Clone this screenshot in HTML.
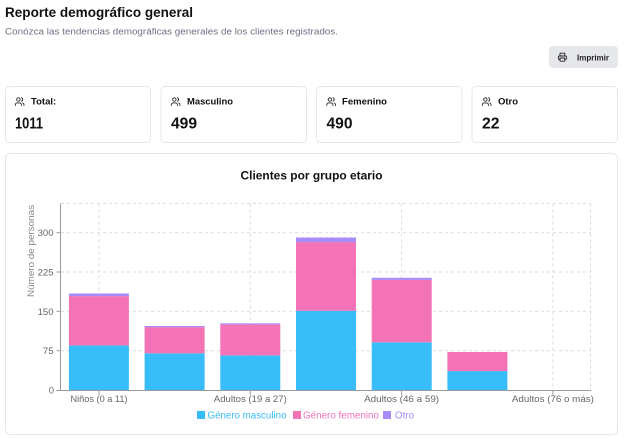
<!DOCTYPE html>
<html><head><meta charset="utf-8"><style>
html,body{margin:0;padding:0;background:#fff;}
svg{display:block;}
text{font-family:"Liberation Sans",Arial,sans-serif;}
</style></head><body>
<svg width="624" height="438" viewBox="0 0 624 438" xmlns="http://www.w3.org/2000/svg">
<rect width="624" height="438" fill="#fff"/>
<!-- header -->
<text x="5" y="17" font-size="13.5" font-weight="700" fill="#111" textLength="188" lengthAdjust="spacingAndGlyphs">Reporte demográfico general</text>
<text x="5" y="34.5" font-size="9" fill="#6b7280" textLength="333" lengthAdjust="spacingAndGlyphs">Conózca las tendencias demográficas generales de los clientes registrados.</text>

<!-- print button -->
<rect x="549" y="46" width="69" height="22" rx="4" fill="#e5e7eb"/>
<g transform="translate(557.6,52.4) scale(0.4)" fill="none" stroke="#222" stroke-width="2.2" stroke-linecap="round" stroke-linejoin="round">
<path d="M6 9V2h12v7"/><path d="M6 18H4a2 2 0 0 1-2-2v-5a2 2 0 0 1 2-2h16a2 2 0 0 1 2 2v5a2 2 0 0 1-2 2h-2"/><rect x="6" y="14" width="12" height="8"/>
</g>
<text x="577" y="60.5" font-size="8.5" font-weight="700" fill="#222" textLength="32" lengthAdjust="spacingAndGlyphs">Imprimir</text>

<!-- stat cards -->
<g fill="#fff" stroke="#e5e7eb" stroke-width="1">
<rect x="5.5" y="86.5" width="145" height="56" rx="4"/>
<rect x="161" y="86.5" width="145.5" height="56" rx="4"/>
<rect x="316.5" y="86.5" width="145.5" height="56" rx="4"/>
<rect x="472" y="86.5" width="145.5" height="56" rx="4"/>
</g>
<defs>
<g id="ico" fill="none" stroke="#222" stroke-width="2" stroke-linecap="round" stroke-linejoin="round">
<path d="M16 21v-2a4 4 0 0 0-4-4H6a4 4 0 0 0-4 4v2"/><circle cx="9" cy="7" r="4"/><path d="M22 21v-2a4 4 0 0 0-3-3.87"/><path d="M16 3.13a4 4 0 0 1 0 7.75"/>
</g>
</defs>
<use href="#ico" transform="translate(14.5,96.5) scale(0.43)"/>
<use href="#ico" transform="translate(170.5,96.5) scale(0.43)"/>
<use href="#ico" transform="translate(326,96.5) scale(0.43)"/>
<use href="#ico" transform="translate(481.5,96.5) scale(0.43)"/>
<g font-size="9.5" font-weight="700" fill="#111">
<text x="31" y="104.5">Total:</text>
<text x="187" y="104.5" textLength="46" lengthAdjust="spacingAndGlyphs">Masculino</text>
<text x="342" y="104.5" textLength="45" lengthAdjust="spacingAndGlyphs">Femenino</text>
<text x="498" y="104.5">Otro</text>
</g>
<g font-size="16" font-weight="700" fill="#111">
<text x="15" y="128.5" textLength="28" lengthAdjust="spacingAndGlyphs">1011</text>
<text x="171" y="128.5" textLength="26" lengthAdjust="spacingAndGlyphs">499</text>
<text x="326.5" y="128.5" textLength="26" lengthAdjust="spacingAndGlyphs">490</text>
<text x="482" y="128.5" textLength="17.5" lengthAdjust="spacingAndGlyphs">22</text>
</g>

<!-- chart card -->
<rect x="5.5" y="153.5" width="612" height="281" rx="5" fill="#fff" stroke="#e5e7eb"/>
<text x="311.5" y="179.5" font-size="12" font-weight="700" fill="#111" text-anchor="middle" textLength="142" lengthAdjust="spacingAndGlyphs">Clientes por grupo etario</text>

<!-- grid -->
<g stroke="#dcdcdc" stroke-width="1" stroke-dasharray="3 3" fill="none">
<line x1="61" y1="203.5" x2="591" y2="203.5"/>
<line x1="61" y1="232.7" x2="591" y2="232.7"/>
<line x1="61" y1="272" x2="591" y2="272"/>
<line x1="61" y1="311.3" x2="591" y2="311.3"/>
<line x1="61" y1="350.7" x2="591" y2="350.7"/>
<line x1="99" y1="203.5" x2="99" y2="390"/>
<line x1="250.3" y1="203.5" x2="250.3" y2="390"/>
<line x1="401.6" y1="203.5" x2="401.6" y2="390"/>
<line x1="552.9" y1="203.5" x2="552.9" y2="390"/>
<line x1="590.5" y1="203.5" x2="590.5" y2="390"/>
</g>

<!-- bars -->
<g>
<rect x="68.9" y="345.4" width="60" height="44.6" fill="#38bdf8"/>
<rect x="68.9" y="296.1" width="60" height="49.3" fill="#f472b6"/>
<rect x="68.9" y="293.5" width="60" height="2.6" fill="#a78bfa"/>

<rect x="144.6" y="353.3" width="60" height="36.7" fill="#38bdf8"/>
<rect x="144.6" y="327.1" width="60" height="26.2" fill="#f472b6"/>
<rect x="144.6" y="326.0" width="60" height="1.1" fill="#a78bfa"/>

<rect x="220.3" y="355.4" width="60" height="34.6" fill="#38bdf8"/>
<rect x="220.3" y="324.4" width="60" height="31" fill="#f472b6"/>
<rect x="220.3" y="323.3" width="60" height="1.1" fill="#a78bfa"/>

<rect x="296" y="310.8" width="60" height="79.2" fill="#38bdf8"/>
<rect x="296" y="242.1" width="60" height="68.7" fill="#f472b6"/>
<rect x="296" y="237.5" width="60" height="4.6" fill="#a78bfa"/>

<rect x="371.7" y="342.3" width="60" height="47.7" fill="#38bdf8"/>
<rect x="371.7" y="279.9" width="60" height="62.4" fill="#f472b6"/>
<rect x="371.7" y="277.8" width="60" height="2.1" fill="#a78bfa"/>

<rect x="447.4" y="371.1" width="60" height="18.9" fill="#38bdf8"/>
<rect x="447.4" y="352" width="60" height="19.1" fill="#f472b6"/>
</g>

<!-- axes -->
<g stroke="#9a9a9a" stroke-width="1" fill="none">
<line x1="60.5" y1="203.5" x2="60.5" y2="390.5"/>
<line x1="60.5" y1="390.5" x2="591" y2="390.5"/>
<line x1="56.5" y1="232.7" x2="60.5" y2="232.7"/>
<line x1="56.5" y1="272" x2="60.5" y2="272"/>
<line x1="56.5" y1="311.3" x2="60.5" y2="311.3"/>
<line x1="56.5" y1="350.7" x2="60.5" y2="350.7"/>
<line x1="56.5" y1="390.5" x2="60.5" y2="390.5"/>
<line x1="99" y1="390.5" x2="99" y2="395"/>
<line x1="250.3" y1="390.5" x2="250.3" y2="395"/>
<line x1="401.6" y1="390.5" x2="401.6" y2="395"/>
<line x1="552.9" y1="390.5" x2="552.9" y2="395"/>
</g>
<g font-size="9.5" fill="#666" text-anchor="end">
<text x="53.5" y="236.2">300</text>
<text x="53.5" y="275.5">225</text>
<text x="53.5" y="314.8">150</text>
<text x="53.5" y="354.2">75</text>
<text x="54" y="393.5">0</text>
</g>
<text transform="translate(34,251) rotate(-90)" font-size="9.5" fill="#8a8a8a" text-anchor="middle" textLength="92" lengthAdjust="spacingAndGlyphs">Número de personas</text>
<g font-size="9.5" fill="#666" text-anchor="middle">
<text x="99" y="402" textLength="57" lengthAdjust="spacingAndGlyphs">Niños (0 a 11)</text>
<text x="250.3" y="402" textLength="73" lengthAdjust="spacingAndGlyphs">Adultos (19 a 27)</text>
<text x="401.6" y="402" textLength="75" lengthAdjust="spacingAndGlyphs">Adultos (46 a 59)</text>
<text x="552.9" y="402" textLength="82" lengthAdjust="spacingAndGlyphs">Adultos (76 o más)</text>
</g>

<!-- legend -->
<rect x="197" y="411" width="8" height="8" fill="#38bdf8"/>
<text x="207.5" y="418.5" font-size="10" fill="#38bdf8" textLength="79" lengthAdjust="spacingAndGlyphs">Género masculino</text>
<rect x="293" y="411" width="8" height="8" fill="#f472b6"/>
<text x="303" y="418.5" font-size="10" fill="#f472b6" textLength="76" lengthAdjust="spacingAndGlyphs">Género femenino</text>
<rect x="383" y="411" width="8" height="8" fill="#a78bfa"/>
<text x="395" y="418.5" font-size="10" fill="#a78bfa" textLength="19" lengthAdjust="spacingAndGlyphs">Otro</text>
</svg>
</body></html>
